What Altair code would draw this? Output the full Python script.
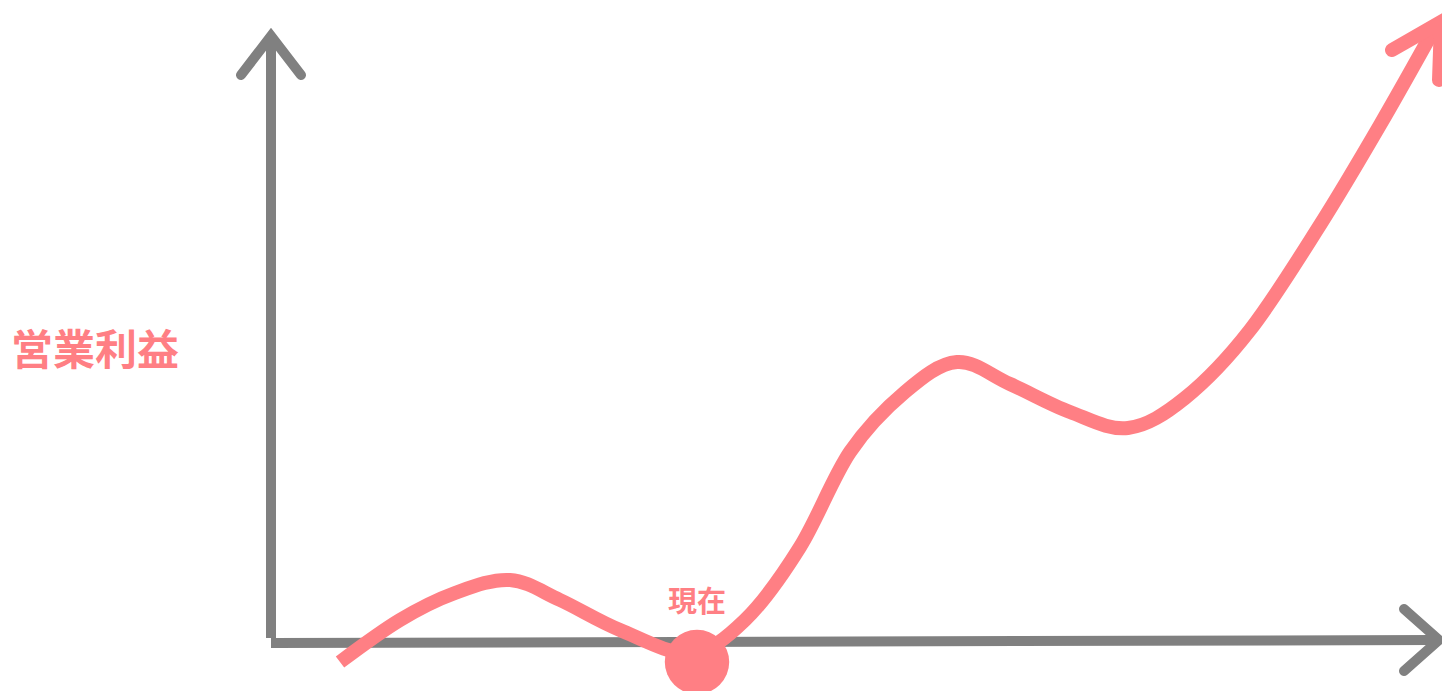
import altair as alt
import pandas as pd

# Frame: horizontal = time, vertical = position measured downward (reversed scale)
W, H = 1442, 691

# Profit curve
curve_x = [340, 400, 455, 510, 560, 620, 690, 745, 800, 850, 905, 957, 1010, 1070, 1128, 1185, 1250, 1320, 1380, 1437]
curve_y = [662, 620, 593, 580, 600, 630, 653, 620, 547, 452, 392, 362, 384, 412, 428, 398, 330, 225, 125, 24]

# Axes
vaxis_x = [271, 271]
vaxis_y = [638, 40]
haxis_x = [271, 1436]
haxis_y = [643, 640]

# Arrow heads: arm end -> tip -> arm end
varrow_x = [241, 271, 301]
varrow_y = [75, 36, 75]
harrow_x = [1404, 1439, 1404]
harrow_y = [609, 640, 671]
carrow_x = [1392, 1441, 1439]
carrow_y = [50, 22, 80]

# Current point
now_x = [697]
now_y = [662]
now_label = ["現在"]
now_label_y = [603]

ylabel = ["営業利益"]
ylabel_x = [95]
ylabel_y = [352]

GRAY = "#808080"
PINK = "#FF7F84"

xs = alt.Scale(domain=[0, W], nice=False, zero=False)
ys = alt.Scale(domain=[H, 0], nice=False, zero=False)

def seg(xv, yv):
    return pd.DataFrame({"x": xv, "y": yv, "o": list(range(len(xv)))})

def line_layer(df, color, width, cap="round", join="miter", interp="linear"):
    return alt.Chart(df).mark_line(
        color=color, strokeWidth=width, strokeCap=cap, strokeJoin=join,
        interpolate=interp, clip=False
    ).encode(
        x=alt.X("x:Q", scale=xs, axis=None),
        y=alt.Y("y:Q", scale=ys, axis=None),
        order="o:Q",
    )

vaxis = line_layer(seg(vaxis_x, vaxis_y), GRAY, 10, cap="butt")
haxis = line_layer(seg(haxis_x, haxis_y), GRAY, 10, cap="butt")
varrow = line_layer(seg(varrow_x, varrow_y), GRAY, 10)
harrow = line_layer(seg(harrow_x, harrow_y), GRAY, 10)

curve = line_layer(seg(curve_x, curve_y), PINK, 14, cap="butt", join="round", interp="cardinal")
carrow = line_layer(seg(carrow_x, carrow_y), PINK, 14)

dot = alt.Chart(pd.DataFrame({"x": now_x, "y": now_y})).mark_circle(
    color=PINK, opacity=1, size=4150
).encode(x=alt.X("x:Q", scale=xs, axis=None), y=alt.Y("y:Q", scale=ys, axis=None))

now_text = alt.Chart(pd.DataFrame({"x": now_x, "y": now_label_y, "t": now_label})).mark_text(
    color=PINK, font="Noto Sans CJK JP", fontWeight="bold", fontSize=29,
    align="center", baseline="middle"
).encode(x=alt.X("x:Q", scale=xs, axis=None), y=alt.Y("y:Q", scale=ys, axis=None), text="t:N")

ytext = alt.Chart(pd.DataFrame({"x": ylabel_x, "y": ylabel_y, "t": ylabel})).mark_text(
    color=PINK, font="Noto Sans CJK JP", fontWeight="bold", fontSize=42,
    align="center", baseline="middle"
).encode(x=alt.X("x:Q", scale=xs, axis=None), y=alt.Y("y:Q", scale=ys, axis=None), text="t:N")

chart = alt.layer(vaxis, haxis, varrow, harrow, curve, carrow, dot, now_text, ytext).properties(
    width=W, height=H, padding=0, autosize=alt.AutoSizeParams(type="none"), background="white"
).configure_view(stroke=None)

chart.save("out.html", embed_options={"renderer": "svg", "actions": False})
